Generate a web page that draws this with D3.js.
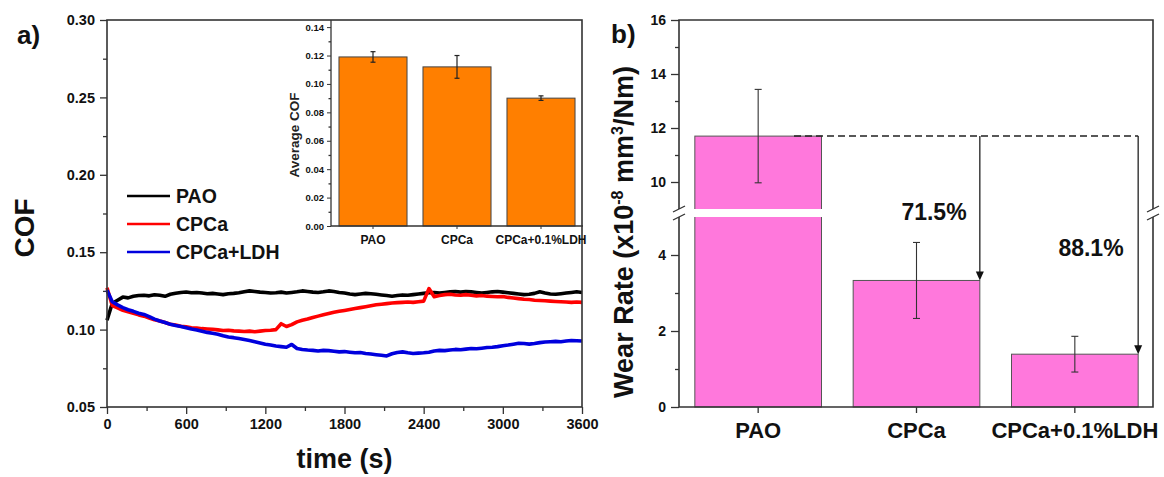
<!DOCTYPE html>
<html><head><meta charset="utf-8">
<script src="https://cdn.jsdelivr.net/npm/d3@7"></script>
<style>
body{margin:0;background:#fff}
svg{display:block;font-family:"Liberation Sans",Arial,sans-serif;font-weight:bold}
</style></head><body>
<svg id="chart" width="1164" height="477"></svg>
<script>
// ---- friction test: COF vs time (sampled every 40 s) ----
const timeS = [
  0,40,80,120,160,200,240,280,320,360,
  400,440,480,520,560,600,640,680,720,760,
  800,840,880,920,960,1000,1040,1080,1120,1160,
  1200,1240,1280,1320,1360,1400,1440,1480,1520,1560,
  1600,1640,1680,1720,1760,1800,1840,1880,1920,1960,
  2000,2040,2080,2120,2160,2200,2240,2280,2320,2360,
  2400,2440,2480,2520,2560,2600,2640,2680,2720,2760,
  2800,2840,2880,2920,2960,3000,3040,3080,3120,3160,
  3200,3240,3280,3320,3360,3400,3440,3480,3520,3560,
  3600];
const cofPAO = [
  0.106,0.117,0.119,0.121,0.1205,0.1215,0.122,0.1222,0.1218,0.1225,
  0.1222,0.1215,0.1228,0.1235,0.1240,0.1243,0.1238,0.1240,0.1236,0.1232,
  0.1234,0.1230,0.1226,0.1232,0.1234,0.1238,0.1245,0.1250,0.1246,0.1242,
  0.1240,0.1236,0.1238,0.1242,0.1236,0.1240,0.1244,0.1250,0.1246,0.1242,
  0.1240,0.1244,0.1250,0.1246,0.1240,0.1236,0.1230,0.1226,0.1230,0.1234,
  0.1232,0.1228,0.1224,0.1220,0.1216,0.1220,0.1224,0.1222,0.1226,0.1230,
  0.1234,0.1238,0.1240,0.1236,0.1240,0.1244,0.1246,0.1242,0.1246,0.1244,
  0.1240,0.1236,0.1240,0.1244,0.1246,0.1242,0.1238,0.1234,0.1230,0.1226,
  0.1228,0.1234,0.1244,0.1236,0.1230,0.1228,0.1232,0.1236,0.1240,0.1244,
  0.1240];
const cofCPCa = [
  0.127,0.1155,0.1140,0.1125,0.1115,0.1105,0.1095,0.1087,0.1075,0.1063,
  0.1055,0.1046,0.1035,0.1030,0.1022,0.1018,0.1012,0.1010,0.1006,0.1004,
  0.1002,0.0998,0.0994,0.0996,0.0992,0.0990,0.0988,0.0990,0.0986,0.0990,
  0.0994,0.0996,0.1000,0.1038,0.1020,0.1032,0.1050,0.1060,0.1068,0.1078,
  0.1087,0.1096,0.1104,0.1112,0.1118,0.1124,0.1130,0.1136,0.1142,0.1148,
  0.1154,0.1160,0.1164,0.1168,0.1172,0.1174,0.1176,0.1178,0.1176,0.1180,
  0.1184,0.1265,0.1212,0.1220,0.1226,0.1228,0.1224,0.1222,0.1226,0.1222,
  0.1218,0.1220,0.1216,0.1214,0.1212,0.1214,0.1208,0.1204,0.1200,0.1196,
  0.1194,0.1190,0.1188,0.1186,0.1184,0.1182,0.1180,0.1178,0.1176,0.1178,
  0.1176];
const cofLDH = [
  0.1255,0.1180,0.1160,0.1142,0.1128,0.1118,0.1106,0.1098,0.1084,0.1068,
  0.1056,0.1046,0.1034,0.1026,0.1020,0.1012,0.1004,0.0998,0.0990,0.0982,
  0.0976,0.0970,0.0960,0.0952,0.0948,0.0942,0.0936,0.0930,0.0922,0.0914,
  0.0906,0.0900,0.0894,0.0890,0.0886,0.0904,0.0878,0.0872,0.0868,0.0866,
  0.0862,0.0866,0.0864,0.0860,0.0856,0.0858,0.0854,0.0850,0.0852,0.0846,
  0.0842,0.0838,0.0834,0.0830,0.0844,0.0852,0.0856,0.0850,0.0846,0.0848,
  0.0850,0.0854,0.0862,0.0866,0.0864,0.0868,0.0872,0.0870,0.0874,0.0878,
  0.0876,0.0880,0.0884,0.0886,0.0890,0.0896,0.0900,0.0906,0.0912,0.0910,
  0.0906,0.0910,0.0916,0.0920,0.0922,0.0924,0.0922,0.0926,0.0930,0.0928,
  0.0926];
const seriesNames = ["PAO","CPCa","CPCa+LDH"];
const seriesColors = ["#000000","#ff0000","#0000dd"];
const timeTicks = [0,600,1200,1800,2400,3000,3600];
const cofTicks = [0.05,0.10,0.15,0.20,0.25,0.30];

// ---- inset: average COF ----
const sampleNames = ["PAO","CPCa","CPCa+0.1%LDH"];
const avgCOF = [0.119,0.112,0.090];
const avgCOFErr = [0.0037,0.008,0.0016];
const avgTicks = [0,0.02,0.04,0.06,0.08,0.10,0.12,0.14];

// ---- wear rate (x1e-8 mm3/Nm) ----
const wearRate = [11.7,3.33,1.39];
const wearErr = [1.73,1.0,0.47];
const wearTicksLow = [0,2,4];
const wearTicksHigh = [10,12,14,16];

const svg = d3.select("#chart");
const AX = "#333";

function styleAxis(g, fs){
  g.select(".domain").remove();
  g.selectAll(".tick line").attr("stroke",AX).attr("stroke-width",1.3);
  g.selectAll(".tick text").attr("fill","#111").style("font-size",fs+"px")
    .style("font-family",'"Liberation Sans",Arial,sans-serif').style("font-weight","bold");
}

// ================= panel a =================
const xT = d3.scaleLinear([0,3600],[107,582]);
const yC = d3.scaleLinear([0.05,0.30],[407,20]);

// minor ticks
svg.append("g").attr("transform","translate(0,407)")
  .call(d3.axisBottom(xT).tickValues(d3.range(300,3600,600)).tickSize(4).tickFormat(""))
  .call(g=>styleAxis(g,14));
svg.append("g").attr("transform","translate(107,0)")
  .call(d3.axisLeft(yC).tickValues([0.075,0.125,0.175,0.225,0.275]).tickSize(4).tickFormat(""))
  .call(g=>styleAxis(g,14));
// major ticks
svg.append("g").attr("transform","translate(0,407)")
  .call(d3.axisBottom(xT).tickValues(timeTicks).tickSize(7).tickPadding(5).tickFormat(d3.format("d")))
  .call(g=>styleAxis(g,14.5));
svg.append("g").attr("transform","translate(107,0)")
  .call(d3.axisLeft(yC).tickValues(cofTicks).tickSize(7).tickPadding(5).tickFormat(d3.format(".2f")))
  .call(g=>styleAxis(g,14.5));

const cofSeries = [cofPAO,cofCPCa,cofLDH];
const line = d3.line().x((d,i)=>xT(timeS[i])).y(d=>yC(d));
cofSeries.forEach((s,k)=>{
  svg.append("path").datum(s).attr("d",line).attr("fill","none")
    .attr("stroke",seriesColors[k]).attr("stroke-width",3.6).attr("stroke-linejoin","round");
});

// frame
svg.append("rect").attr("x",107).attr("y",20).attr("width",475).attr("height",387)
  .attr("fill","none").attr("stroke",AX).attr("stroke-width",1.6);

// legend
const lg = svg.append("g");
seriesNames.forEach((n,i)=>{
  const y = 196 + i*28;
  lg.append("line").attr("x1",127).attr("x2",170).attr("y1",y).attr("y2",y)
    .attr("stroke",seriesColors[i]).attr("stroke-width",2.4);
  lg.append("text").attr("x",176).attr("y",y+7).attr("fill","#111")
    .style("font-size","19.5px").text(n);
});

svg.append("text").attr("x",344.5).attr("y",468).attr("text-anchor","middle")
  .style("font-size","27px").attr("fill","#111").text("time (s)");
svg.append("text").attr("transform","translate(34,228) rotate(-90)").attr("text-anchor","middle")
  .style("font-size","28px").attr("fill","#111").text("COF");
svg.append("text").attr("x",17).attr("y",44).style("font-size","26px").attr("fill","#111").text("a)");

// ---- inset ----
const xI = d3.scaleBand(sampleNames,[331,583]).paddingInner(0.19).paddingOuter(0.095);
const yI = d3.scaleLinear([0,0.145],[226,20]);
svg.append("g").attr("transform","translate(331,0)")
  .call(d3.axisLeft(yI).tickValues(d3.range(0.01,0.14,0.02)).tickSize(2.5).tickFormat(""))
  .call(g=>styleAxis(g,9.5));
svg.append("g").attr("transform","translate(331,0)")
  .call(d3.axisLeft(yI).tickValues(avgTicks).tickSize(4).tickPadding(3).tickFormat(d3.format(".2f")))
  .call(g=>{styleAxis(g,9.5); g.selectAll(".tick line").attr("stroke-width",1);});
svg.append("g").attr("transform","translate(0,226)")
  .call(d3.axisBottom(xI).tickSize(3).tickPadding(6))
  .call(g=>{styleAxis(g,12); g.selectAll(".tick line").attr("stroke-width",1);});

svg.append("g").selectAll("rect").data(avgCOF).join("rect")
  .attr("x",(d,i)=>xI(sampleNames[i])).attr("width",xI.bandwidth())
  .attr("y",d=>yI(d)).attr("height",d=>226-yI(d))
  .attr("fill","#ff7f00").attr("stroke","#444").attr("stroke-width",1);
const ebI = svg.append("g").attr("stroke","#222").attr("stroke-width",1.2);
avgCOF.forEach((v,i)=>{
  const cx = xI(sampleNames[i]) + xI.bandwidth()/2;
  const y1 = yI(v+avgCOFErr[i]), y2 = yI(v-avgCOFErr[i]);
  ebI.append("line").attr("x1",cx).attr("x2",cx).attr("y1",y1).attr("y2",y2);
  ebI.append("line").attr("x1",cx-2.5).attr("x2",cx+2.5).attr("y1",y1).attr("y2",y1);
  ebI.append("line").attr("x1",cx-2.5).attr("x2",cx+2.5).attr("y1",y2).attr("y2",y2);
});
svg.append("line").attr("x1",331).attr("x2",331).attr("y1",20).attr("y2",226).attr("stroke",AX).attr("stroke-width",1.3);
svg.append("line").attr("x1",331).attr("x2",583).attr("y1",226).attr("y2",226).attr("stroke",AX).attr("stroke-width",1.3);
svg.append("text").attr("transform","translate(299,135) rotate(-90)").attr("text-anchor","middle")
  .style("font-size","13.5px").attr("fill","#222").text("Average COF");

// ================= panel b =================
const xW = d3.scaleBand(sampleNames,[679,1154]).paddingInner(0.2).paddingOuter(0.1);
const yLow = d3.scaleLinear([0,5],[407,217]);
const yHigh = d3.scaleLinear([9,16],[209,20]);
const yW = v => v <= 5 ? yLow(v) : yHigh(v);

// ticks (lower and upper segments)
svg.append("g").attr("transform","translate(679,0)")
  .call(d3.axisLeft(yLow).tickValues([1,3]).tickSize(4).tickFormat(""))
  .call(g=>styleAxis(g,14));
svg.append("g").attr("transform","translate(679,0)")
  .call(d3.axisLeft(yHigh).tickValues([11,13,15]).tickSize(4).tickFormat(""))
  .call(g=>styleAxis(g,14));
svg.append("g").attr("transform","translate(679,0)")
  .call(d3.axisLeft(yLow).tickValues(wearTicksLow).tickSize(8).tickPadding(5).tickFormat(d3.format("d")))
  .call(g=>styleAxis(g,14));
svg.append("g").attr("transform","translate(679,0)")
  .call(d3.axisLeft(yHigh).tickValues(wearTicksHigh).tickSize(8).tickPadding(5).tickFormat(d3.format("d")))
  .call(g=>styleAxis(g,14));
svg.append("g").attr("transform","translate(0,407)")
  .call(d3.axisBottom(xW).tickSize(6).tickPadding(9))
  .call(g=>styleAxis(g,22));

// bars
svg.append("g").selectAll("rect").data(wearRate).join("rect")
  .attr("x",(d,i)=>xW(sampleNames[i])).attr("width",xW.bandwidth())
  .attr("y",d=>yW(d)).attr("height",d=>407-yW(d))
  .attr("fill","#ff78dc").attr("stroke","#555").attr("stroke-width",1);
// white gap through bars crossing the axis break
wearRate.forEach((v,i)=>{
  if (v > 5) svg.append("rect").attr("x",xW(sampleNames[i])-2).attr("width",xW.bandwidth()+4)
    .attr("y",209).attr("height",8).attr("fill","#fff");
});
const ebW = svg.append("g").attr("stroke","#333").attr("stroke-width",1.1);
wearRate.forEach((v,i)=>{
  const cx = xW(sampleNames[i]) + xW.bandwidth()/2;
  const y1 = yW(v+wearErr[i]), y2 = yW(v-wearErr[i]);
  ebW.append("line").attr("x1",cx).attr("x2",cx).attr("y1",y1).attr("y2",y2);
  ebW.append("line").attr("x1",cx-3.5).attr("x2",cx+3.5).attr("y1",y1).attr("y2",y1);
  ebW.append("line").attr("x1",cx-3.5).attr("x2",cx+3.5).attr("y1",y2).attr("y2",y2);
});

// frame with break
const fr = svg.append("g").attr("stroke",AX).attr("stroke-width",1.6).attr("fill","none");
fr.append("path").attr("d","M679,209 L679,20 L1153,20 L1153,209");
fr.append("path").attr("d","M679,217 L679,407 L1153,407 L1153,217");
[679,1153].forEach(x=>{
  [209,217].forEach(y=>{
    fr.append("line").attr("x1",x-6).attr("y1",y+3).attr("x2",x+6).attr("y2",y-3).attr("stroke-width",1.3);
  });
});

// reduction annotations
const refY = yW(wearRate[0]);
svg.append("line").attr("x1",794).attr("x2",xW(sampleNames[2])+xW.bandwidth()).attr("y1",refY).attr("y2",refY)
  .attr("stroke","#222").attr("stroke-width",1.5).attr("stroke-dasharray","7,4");
const pct = d3.format(".1f");
[1,2].forEach(i=>{
  const ax = xW(sampleNames[i]) + xW.bandwidth();
  const ty = yW(wearRate[i]);
  svg.append("line").attr("x1",ax).attr("x2",ax).attr("y1",refY).attr("y2",ty-8)
    .attr("stroke","#222").attr("stroke-width",1.3);
  svg.append("path").attr("d",`M${ax-4},${ty-9} L${ax+4},${ty-9} L${ax},${ty} Z`).attr("fill","#111");
});
svg.append("text").attr("x",934).attr("y",220).attr("text-anchor","middle").style("font-size","23px")
  .attr("fill","#111").text(pct((1-wearRate[1]/wearRate[0])*100)+"%");
svg.append("text").attr("x",1091).attr("y",256).attr("text-anchor","middle").style("font-size","23px")
  .attr("fill","#111").text(pct((1-wearRate[2]/wearRate[0])*100)+"%");

const yl = svg.append("text").attr("transform","translate(633,232) rotate(-90)").attr("text-anchor","middle")
  .style("font-size","27px").attr("fill","#111");
yl.append("tspan").text("Wear Rate (x10");
yl.append("tspan").attr("dy",-10).style("font-size","16px").text("-8");
yl.append("tspan").attr("dy",10).text(" mm");
yl.append("tspan").attr("dy",-10).style("font-size","16px").text("3");
yl.append("tspan").attr("dy",10).text("/Nm)");
svg.append("text").attr("x",611).attr("y",43).style("font-size","26px").attr("fill","#111").text("b)");
</script>
</body></html>
